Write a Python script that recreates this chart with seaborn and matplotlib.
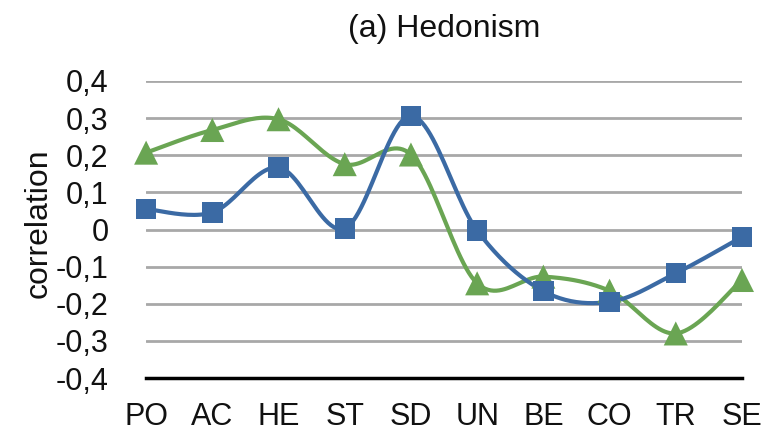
import numpy as np
import pandas as pd
import matplotlib
matplotlib.use("Agg")
import matplotlib.pyplot as plt
import seaborn as sns

categories = ["PO", "AC", "HE", "ST", "SD", "UN", "BE", "CO", "TR", "SE"]
series_blue = [0.055, 0.046, 0.167, 0.003, 0.306, -0.003, -0.166, -0.195, -0.118, -0.020]
series_green = [0.207, 0.268, 0.297, 0.176, 0.202, -0.145, -0.127, -0.165, -0.280, -0.136]
yticks = [0.4, 0.3, 0.2, 0.1, 0.0, -0.1, -0.2, -0.3, -0.4]
ytick_labels = ["0,4", "0,3", "0,2", "0,1", "0", "-0,1", "-0,2", "-0,3", "-0,4"]
title = "(a) Hedonism"
ylabel = "correlation"

BLUE = "#3b6aa4"
GREEN = "#6aa553"

sns.set_theme(style="white")
plt.rcParams["font.family"] = ["Liberation Sans", "DejaVu Sans"]


def smooth(y, steps=24):
    """Catmull-Rom style Bezier smoothing (like spreadsheet 'smoothed line')."""
    x = np.arange(len(y), dtype=float)
    y = np.asarray(y, dtype=float)
    P = np.column_stack([x, y])
    n = len(P)
    xs, ys = [], []
    for i in range(n - 1):
        p0 = P[max(i - 1, 0)]
        p1 = P[i]
        p2 = P[i + 1]
        p3 = P[min(i + 2, n - 1)]
        c1 = p1 + (p2 - p0) / 6.0
        c2 = p2 - (p3 - p1) / 6.0
        t = np.linspace(0, 1, steps, endpoint=(i == n - 2))[:, None]
        b = ((1 - t) ** 3) * p1 + 3 * ((1 - t) ** 2) * t * c1 + 3 * (1 - t) * t ** 2 * c2 + t ** 3 * p2
        xs.append(b[:, 0])
        ys.append(b[:, 1])
    return np.concatenate(xs), np.concatenate(ys)


fig = plt.figure(figsize=(7.61, 4.32), dpi=100)
ax = fig.add_axes([0.192, 0.125, 0.783, 0.6875])

pts = pd.DataFrame({
    "x": np.arange(len(categories)),
    "blue": series_blue,
    "green": series_green,
})

for col, color, marker, msize in [("green", GREEN, "^", 300), ("blue", BLUE, "s", 215)]:
    sx, sy = smooth(pts[col].values)
    curve = pd.DataFrame({"x": sx, "y": sy})
    sns.lineplot(data=curve, x="x", y="y", ax=ax, color=color, linewidth=3.0,
                 sort=False, estimator=None, zorder=3)
    sns.scatterplot(data=pts, x="x", y=col, ax=ax, color=color, marker=marker,
                    s=msize, edgecolor="none", linewidth=0, zorder=4, clip_on=False)

ax.set_xlim(0, len(categories) - 1)
ax.set_ylim(-0.4, 0.4)
ax.set_xticks(np.arange(len(categories)))
ax.set_xticklabels(categories)
ax.set_yticks(yticks)
ax.set_yticklabels(ytick_labels)
ax.tick_params(axis="both", length=0, labelsize=22, colors="#111111")
ax.tick_params(axis="y", pad=27)
ax.tick_params(axis="x", pad=17)

for y in yticks:
    if y > -0.4:
        ax.axhline(y, color="#a8a8a8", linewidth=2.0, zorder=1)

for s in ["top", "right", "left"]:
    ax.spines[s].set_visible(False)
ax.spines["bottom"].set_color("black")
ax.spines["bottom"].set_linewidth(2.5)
ax.spines["bottom"].set_zorder(2)

ax.set_xlabel("")
ax.set_ylabel(ylabel, fontsize=23, color="#111111", labelpad=2)
ax.yaxis.set_label_coords(-0.155, 0.52)
ax.set_title(title, fontsize=23, color="#111111", pad=32)

fig.savefig("out.png", dpi=100)
